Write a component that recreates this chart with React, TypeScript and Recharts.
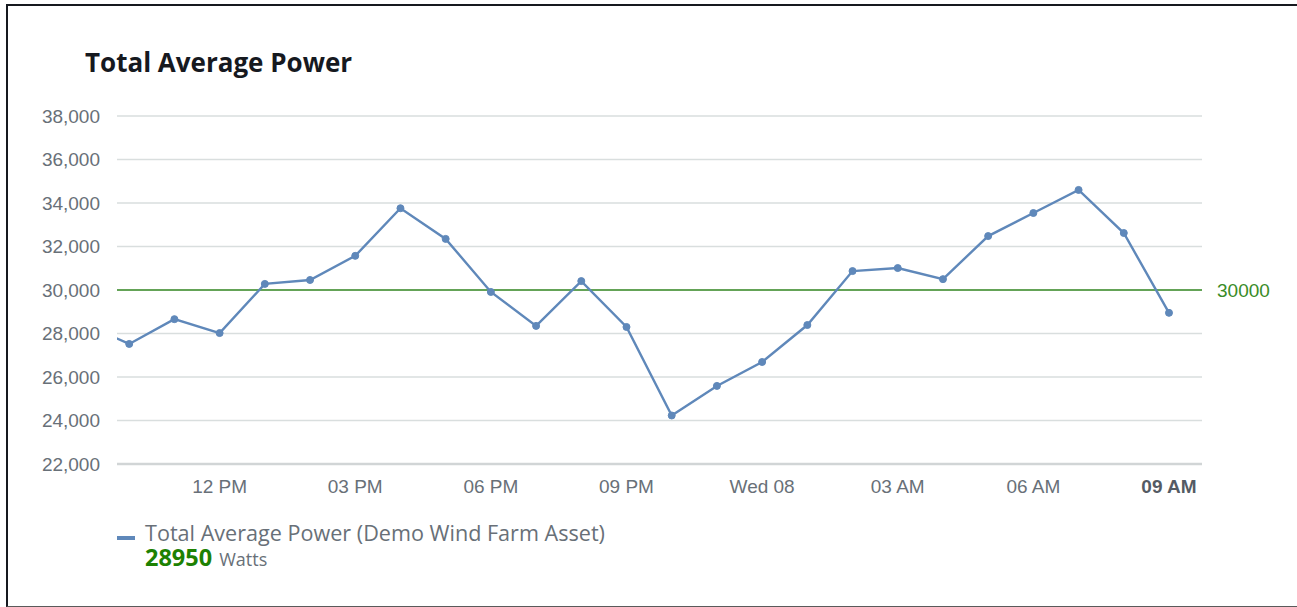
import React from "react";
import { LineChart, Line, XAxis, YAxis, CartesianGrid, ReferenceLine } from "recharts";

// hours since 00:00 Tue 07 (9 = 09 AM Tue, 33 = 09 AM Wed)
const hours = [9, 10, 11, 12, 13, 14, 15, 16, 17, 18, 19, 20, 21, 22, 23, 24, 25, 26, 27, 28, 29, 30, 31, 32, 33];
const powerValues = [28450, 27520, 28660, 28020, 30280, 30460, 31570, 33760, 32350, 29910, 28350, 30410, 28300, 24230, 25590, 26690, 28390, 30870, 31010, 30500, 32480, 33540, 34600, 32620, 28950];
const xTicks = [12, 15, 18, 21, 24, 27, 30, 33];
const xTickLabels = ["12 PM", "03 PM", "06 PM", "09 PM", "Wed 08", "03 AM", "06 AM", "09 AM"];
const yTicks = [22000, 24000, 26000, 28000, 30000, 32000, 34000, 36000, 38000];
const threshold = 30000;
const seriesName = "Total Average Power (Demo Wind Farm Asset)";
const unit = "Watts";
const title = "Total Average Power";

const data = hours.map((t, i) => ({ t, v: powerValues[i] }));

const LINE = "#5f88ba";
const GREEN = "#3a8c27";
const GRAY = "#687078";

const XTick = (props: any) => {
  const { x, y, payload } = props;
  const idx = xTicks.indexOf(payload.value);
  const label = idx >= 0 ? xTickLabels[idx] : "";
  const last = idx === xTicks.length - 1;
  return (
    <text x={x} y={y} dy="0.71em" textAnchor="middle" fontFamily="'Liberation Sans', Arial, sans-serif" fontSize={19} fill={last ? "#545b64" : GRAY} fontWeight={last ? 700 : 400}>
      {label}
    </text>
  );
};

const RefLabel = (props: any) => {
  const { viewBox } = props;
  const x = viewBox.x + viewBox.width + 15;
  const y = viewBox.y;
  return (
    <text x={x} y={y} dy="0.355em" fontFamily="'Liberation Sans', Arial, sans-serif" fontSize={19} fill={GREEN}>
      {String(threshold)}
    </text>
  );
};

export default function App() {
  const last = powerValues[powerValues.length - 1];
  return (
    <div>
      <div style={{ position: "fixed", left: 6, top: 4, width: 1320, height: 600, borderTop: "2px solid #16191f", borderLeft: "2px solid #16191f", borderBottom: "1px solid #5a5a5a", background: "#fff" }} />
      <div style={{ position: "fixed", left: 0, top: 0, width: 1297, height: 607 }}>
        <LineChart width={1297} height={607} data={data} margin={{ top: 116, right: 95, bottom: 113, left: 0 }}>
          <CartesianGrid vertical={false} stroke="#d9dede" strokeWidth={1.5} />
          <XAxis
            dataKey="t"
            type="number"
            domain={[9.73, 33.73]}
            ticks={xTicks}
            allowDataOverflow
            height={30}
            tickLine={false}
            axisLine={{ stroke: "#d1d5d6", strokeWidth: 2.5 }}
            tickMargin={10}
            tick={<XTick />}
            interval={0}
          />
          <YAxis
            type="number"
            domain={[22000, 38000]}
            ticks={yTicks}
            width={117}
            axisLine={false}
            tickLine={false}
            tickMargin={11}
            tick={{ fill: GRAY, fontSize: 19, fontFamily: "'Liberation Sans', Arial, sans-serif" }}
            tickFormatter={(v: number) => v.toLocaleString("en-US")}
            interval={0}
          />
          <ReferenceLine y={threshold} stroke={GREEN} strokeWidth={1.6} label={<RefLabel />} />
          <Line
            type="linear"
            dataKey="v"
            stroke={LINE}
            strokeWidth={2.4}
            dot={{ r: 3.5, fill: LINE, stroke: LINE, strokeWidth: 1 }}
            activeDot={false}
            isAnimationActive={false}
          />
        </LineChart>
      </div>
      <svg style={{ position: "fixed", left: 0, top: 0, pointerEvents: "none" }} width={1297} height={607}>
        <text x={85} y={72} fontFamily="'Open Sans', 'Noto Sans', sans-serif" fontWeight={700} fontSize={26} fill="#16191f">
          {title}
        </text>
        <line x1={117} x2={135} y1={538} y2={538} stroke={LINE} strokeWidth={4} />
        <text x={145} y={541} fontFamily="'Open Sans', 'Noto Sans', sans-serif" fontSize={21.6} fill={GRAY}>
          {seriesName}
        </text>
        <text x={145} y={566} fontFamily="'Open Sans', 'Noto Sans', sans-serif" fontWeight={700} fontSize={23.5} fill="#1d8102">
          {String(last)}
          <tspan dx={7} fontWeight={400} fontSize={18} fill={GRAY}>{unit}</tspan>
        </text>
      </svg>
    </div>
  );
}
